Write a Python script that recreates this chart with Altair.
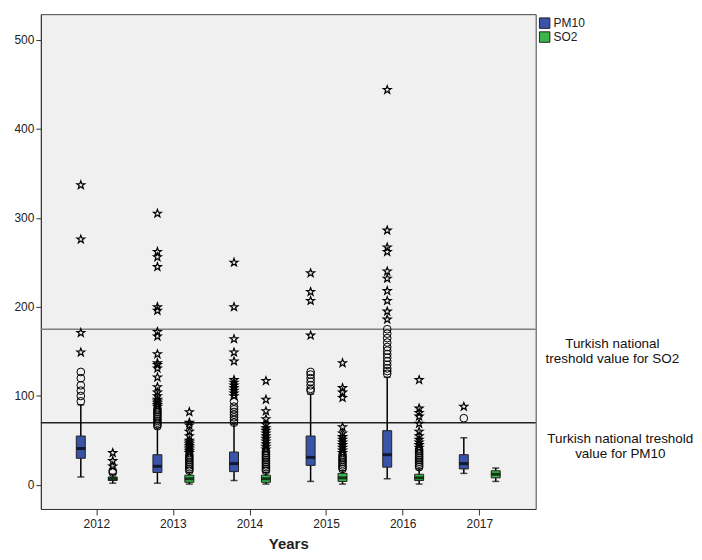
import altair as alt
import pandas as pd

years = ["2012", "2013", "2014", "2015", "2016", "2017"]
series = ["PM10", "SO2"]
colors = ["#3953a8", "#39b54a"]

# box statistics per year (whisker low, q1, median, q3, whisker high)
pm10_lo = [9, 2, 5, 4, 7, 13]
pm10_q1 = [30, 14, 15, 22, 20, 18]
pm10_med = [41, 21, 24, 31, 34, 24]
pm10_q3 = [55, 34, 37, 55, 61, 34]
pm10_hi = [90, 64, 68, 102, 121, 53]

so2_lo = [2, 1, 1, 1, 1, 4]
so2_q1 = [5, 3, 3, 4, 5, 8]
so2_med = [7, 7, 7, 8, 8, 12]
so2_q3 = [9, 11, 11, 13, 12, 16]
so2_hi = [12, 14, 14, 16, 18, 19]

# outliers (circles) and extreme values (stars)
pm10_circles = {
    "2012": [94, 100, 106, 112, 120, 127],
    "2013": [66, 68, 70, 72, 74, 76, 78, 80, 82, 84, 86],
    "2014": [70, 73, 76, 79, 82, 85, 88, 94],
    "2015": [106, 108, 112, 116, 120, 124, 127],
    "2016": [125, 128, 131, 135, 139, 143, 147, 151, 155, 160, 165, 170, 175],
    "2017": [75],
}
pm10_stars = {
    "2012": [149, 171, 276, 337],
    "2013": [88, 90, 92, 94, 96, 100, 104, 110, 121, 131, 135, 137, 147, 167, 172, 196, 200, 245, 256, 262, 305],
    "2014": [100, 103, 106, 109, 112, 115, 118, 139, 149, 164, 200, 250],
    "2015": [168, 207, 217, 238],
    "2016": [186, 195, 207, 218, 232, 240, 262, 267, 286, 444],
    "2017": [88],
}
so2_circles = {
    "2012": [14, 16],
    "2013": [16, 18, 20, 22, 24, 26, 28, 30, 32, 34],
    "2014": [16, 18, 20, 22, 24, 26, 28, 30, 32, 34, 36, 38],
    "2015": [18, 20, 22, 24, 26, 28, 30, 32, 34],
    "2016": [20, 22, 24, 26, 28, 30, 32, 34, 36, 38, 40],
    "2017": [],
}
so2_stars = {
    "2012": [21, 27, 36],
    "2013": [36, 38, 40, 42, 44, 46, 48, 50, 55, 60, 67, 70, 82],
    "2014": [40, 43, 46, 49, 52, 55, 58, 61, 64, 68, 74, 83, 96, 117],
    "2015": [36, 39, 42, 45, 48, 51, 54, 58, 65, 98, 104, 109, 137],
    "2016": [42, 45, 48, 51, 55, 60, 69, 77, 81, 86, 118],
    "2017": [],
}

thresholds = [175, 70]
threshold_colors = ["#7f7f7f", "#222222"]
annot_values = [158, 52]
annot_text = [["Turkish national", "treshold value for SO2"],
              ["Turkish national treshold", "value for PM10"]]

# ---- build tables ----
box_rows = []
for i, y in enumerate(years):
    box_rows.append(dict(year=y, series="PM10", lo=pm10_lo[i], q1=pm10_q1[i],
                         med=pm10_med[i], q3=pm10_q3[i], hi=pm10_hi[i]))
    box_rows.append(dict(year=y, series="SO2", lo=so2_lo[i], q1=so2_q1[i],
                         med=so2_med[i], q3=so2_q3[i], hi=so2_hi[i]))
boxes = pd.DataFrame(box_rows)

out_rows = []
for name, circ, star in [("PM10", pm10_circles, pm10_stars), ("SO2", so2_circles, so2_stars)]:
    for y in years:
        for v in circ[y]:
            out_rows.append(dict(year=y, series=name, value=v, kind="circle"))
        for v in star[y]:
            out_rows.append(dict(year=y, series=name, value=v, kind="star"))
outs = pd.DataFrame(out_rows)

thr = pd.DataFrame({"value": thresholds, "col": threshold_colors})
ann = pd.DataFrame({"value": annot_values, "text": annot_text, "dx": [574, 582]})

ydom = [-27, 529]
yscale = alt.Scale(domain=ydom, nice=False, zero=False)

xenc = alt.X("year:N", sort=years,
             scale=alt.Scale(paddingInner=0, paddingOuter=0.23),
             axis=alt.Axis(title="Years", labelAngle=0, tickSize=6, labelFontSize=12,
                           labelPadding=4, titleFontSize=15, titleFontWeight="bold",
                           titlePadding=7, domainColor="#333", tickColor="#333",
                           labelColor="#222", titleColor="#222"))
xoff = alt.XOffset("series:N", sort=series,
                   scale=alt.Scale(domain=series, paddingOuter=0.2, paddingInner=0))

star_path = ("M0,-1L0.24,-0.33L0.95,-0.31L0.38,0.12L0.59,0.81L0,0.4L-0.59,0.81"
             "L-0.38,0.12L-0.95,-0.31L-0.24,-0.33Z")

base_box = alt.Chart(boxes)

thr_layer = alt.Chart(thr).mark_rule(strokeWidth=1.5).encode(
    y=alt.Y("value:Q", scale=yscale),
    color=alt.Color("col:N", scale=None),
)

whisk = base_box.mark_rule(color="black", strokeWidth=1.5).encode(
    x=xenc, xOffset=xoff,
    y=alt.Y("lo:Q", scale=yscale,
            axis=alt.Axis(title=None, values=[0, 100, 200, 300, 400, 500], grid=False,
                          tickSize=5, labelFontSize=12, labelPadding=2,
                          domainColor="#333", tickColor="#333", labelColor="#222")),
    y2="hi:Q",
)
caps_lo = base_box.mark_tick(color="black", thickness=1.5, size=7).encode(
    x=xenc, xOffset=xoff, y=alt.Y("lo:Q", scale=yscale))
caps_hi = base_box.mark_tick(color="black", thickness=1.5, size=7).encode(
    x=xenc, xOffset=xoff, y=alt.Y("hi:Q", scale=yscale))

box = base_box.mark_bar(size=9, stroke="#222", strokeWidth=1).encode(
    x=xenc, xOffset=xoff,
    y=alt.Y("q1:Q", scale=yscale), y2="q3:Q",
    color=alt.Color("series:N", scale=alt.Scale(domain=series, range=colors),
                    legend=alt.Legend(title=None, orient="right", symbolType="square",
                                      symbolSize=110, symbolStrokeColor="#222",
                                      symbolStrokeWidth=1, labelFontSize=12,
                                      labelColor="#222", offset=0, padding=3,
                                      rowPadding=-2, labelOffset=3, symbolOpacity=1)),
)
med = base_box.mark_tick(color="black", thickness=3, size=9).encode(
    x=xenc, xOffset=xoff, y=alt.Y("med:Q", scale=yscale))

circ = alt.Chart(outs).transform_filter(alt.datum.kind == "circle").mark_point(
    shape="circle", size=60, filled=False, color="black", strokeWidth=1, opacity=1
).encode(x=xenc, xOffset=xoff, y=alt.Y("value:Q", scale=yscale))

stars = alt.Chart(outs).transform_filter(alt.datum.kind == "star").mark_point(
    shape=star_path, size=70, filled=False, color="black", strokeWidth=1.2, opacity=1
).encode(x=xenc, xOffset=xoff, y=alt.Y("value:Q", scale=yscale))

annot = alt.Chart(ann).mark_text(fontSize=13.5, align="center", baseline="middle",
                                 lineHeight=15, color="#111", font="Liberation Sans").encode(
    x=alt.X("dx:Q", scale=None),
    y=alt.Y("value:Q", scale=yscale),
    text="text",
)

chart = alt.layer(thr_layer, whisk, caps_lo, caps_hi, box, med, circ, stars, annot).properties(
    width=497, height=497,
    padding={"left": 5, "top": 5, "right": 0, "bottom": 0},
).configure(font="Liberation Sans").configure_view(
    fill="#f0f0f0", stroke="#444", strokeWidth=1
)

chart.save("out.html", embed_options={"renderer": "svg", "actions": False})
